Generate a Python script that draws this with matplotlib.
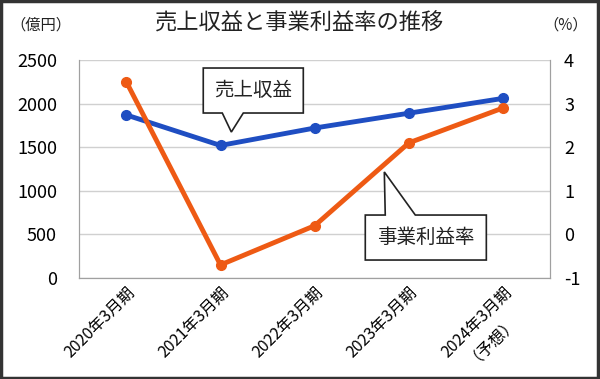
import matplotlib
matplotlib.use("Agg")
import matplotlib.pyplot as plt
from matplotlib.patches import Polygon, Rectangle

plt.rcParams['font.family'] = ['Noto Sans CJK JP', 'DejaVu Sans']
plt.rcParams['axes.unicode_minus'] = False

# data
categories = ["2020年3月期", "2021年3月期", "2022年3月期", "2023年3月期", "2024年3月期\n（予想）"]
revenue = [1870, 1520, 1720, 1890, 2060]        # 億円
profit_rate = [3.5, -0.7, 0.2, 2.1, 2.9]        # %

blue = '#1F4EC2'
orange = '#EE5A14'

fig = plt.figure(figsize=(6, 3.79), dpi=100)
ax1 = fig.add_axes([0.132, 0.2665, 0.785, 0.5752])
ax2 = ax1.twinx()

x = list(range(len(categories)))
ax1.plot(x, revenue, color=blue, lw=3.5, marker='o', ms=7, zorder=3)
ax2.plot(x, profit_rate, color=orange, lw=3.5, marker='o', ms=7, zorder=3)

ax1.set_xlim(-0.5, 4.5)
ax1.set_ylim(0, 2500)
ax1.set_yticks(range(0, 2501, 500))
ax2.set_ylim(-1, 4)
ax2.set_yticks(range(-1, 5))

ax1.grid(axis='y', color='#D0D0D0', lw=1)
ax1.set_axisbelow(True)
for a in (ax1, ax2):
    a.tick_params(length=0, labelsize=13)
    for s in a.spines.values():
        s.set_color('#A0A0A0')
    a.spines['top'].set_visible(False)
ax1.tick_params(axis='y', pad=16)
ax2.tick_params(axis='y', pad=10)

ax1.set_xticks(x)
ax1.set_xticklabels(categories, rotation=45, ha='right', rotation_mode='anchor',
                    fontsize=11.5, multialignment='center')
ax1.tick_params(axis='x', pad=4)

# callouts
def callout(ax, box, tip, text):
    (x0, y0, x1, y1) = box
    (pl, ap, pr) = tip
    if ap[1] < y0:   # pointer below the box
        pts = [(x0, y1), (x1, y1), (x1, y0), pr, ap, pl, (x0, y0)]
    else:            # pointer above the box
        pts = [(x0, y0), (x0, y1), pl, ap, pr, (x1, y1), (x1, y0)]
    ax.add_patch(Polygon(pts, closed=True, facecolor='white', edgecolor='#222222',
                         lw=1.2, transform=ax1.transData, zorder=5))
    ax.text((x0 + x1) / 2, (y0 + y1) / 2, text, transform=ax1.transData,
            ha='center', va='center', fontsize=14, color='#222222', zorder=6)

callout(ax2, (0.817, 1892, 1.879, 2408), ((1.019, 1892), (1.115, 1674), (1.242, 1892)), "売上収益")
callout(ax2, (2.537, 206, 3.822, 722), ((2.749, 722), (2.739, 1216), (3.068, 722)), "事業利益率")

fig.text(0.5, 0.94, "売上収益と事業利益率の推移", ha='center', va='center', fontsize=16, color='#222222')
fig.text(0.068, 0.935, "（億円）", ha='center', va='center', fontsize=11, color='#222222')
fig.text(0.942, 0.935, "（%）", ha='center', va='center', fontsize=11, color='#222222')

fig.patches.append(Rectangle((0.002, 0.003), 0.995, 0.994, transform=fig.transFigure,
                             fill=False, edgecolor='#333333', lw=2.5))

fig.savefig("out.png", dpi=100)
